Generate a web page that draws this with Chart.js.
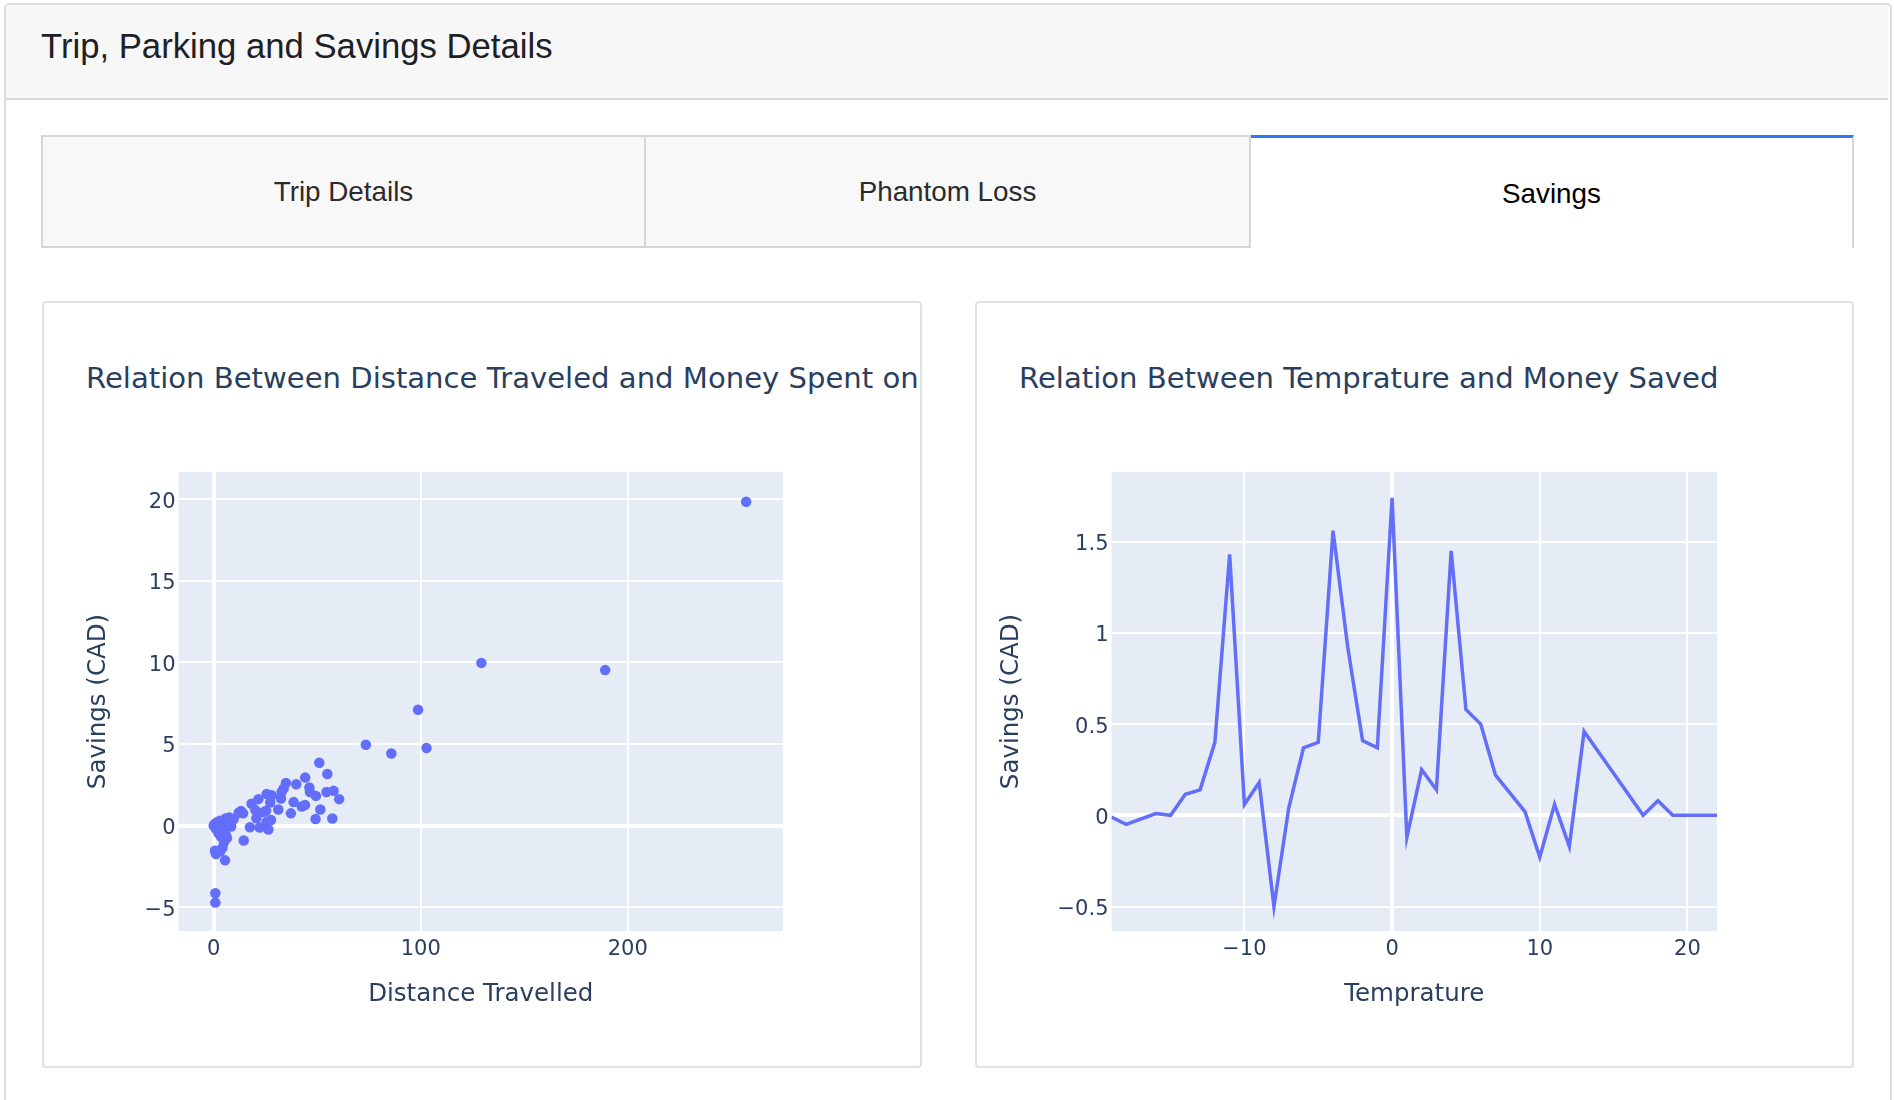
<!DOCTYPE html>
<html>
<head>
<meta charset="utf-8">
<title>Trip, Parking and Savings Details</title>
<script src="https://cdn.jsdelivr.net/npm/chart.js@4.4.1/dist/chart.umd.min.js"></script>
<style>
    html, body { margin: 0; padding: 0; background: #fff; }
    body { width: 1894px; height: 1100px; overflow: hidden; position: relative; font-family: "Liberation Sans", Arial, sans-serif; }
    .panel { position: absolute; left: 4px; top: 3px; width: 1888px; height: 1200px; border: 2px solid #dcdcdc; border-radius: 5px; box-sizing: border-box; }
    .panel-head { position: absolute; left: 6px; top: 5px; width: 1882px; height: 93px; background: #f7f7f7; border-bottom: 2px solid #d9d9d9; border-radius: 4px 4px 0 0; }
    .panel-head h1 { position: absolute; left: 35px; top: 20px; margin: 0; font-size: 34.7px; line-height: 42px; font-weight: normal; color: #1d2125; white-space: nowrap; }
    .tab { position: absolute; top: 135px; height: 113px; box-sizing: border-box; display: flex; align-items: center; justify-content: center; font-size: 27.8px; color: #2b2b2b; }
    .tab.off { background: #f8f8f8; border: 2px solid #d6d6d6; }
    .tab.on { background: #fff; border-top: 3px solid #2f78f3; border-right: 2px solid #d6d6d6; color: #000; padding-top: 2px; }
    .card { position: absolute; top: 301px; height: 767px; border: 2px solid #e1e1e1; border-radius: 4px; box-sizing: border-box; overflow: hidden; background: #fff; }
    .card .ttl { position: absolute; top: 57px; font-family: "DejaVu Sans", Verdana, sans-serif; font-size: 29.1px; line-height: 36px; color: #2a3f5f; white-space: nowrap; overflow: hidden; }
    .card canvas { position: absolute; left: 0; top: 0; }
</style>
</head>
<body>
<div class="panel"></div>
<div class="panel-head"><h1>Trip, Parking and Savings Details</h1></div>

<div class="tab off" style="left:41px; width:605px;">Trip Details</div>
<div class="tab off" style="left:644px; width:607px;">Phantom Loss</div>
<div class="tab on" style="left:1251px; width:603px;">Savings</div>

<div class="card" style="left:42px; width:880px;">
    <div class="ttl" style="left:42px; width:831px;">Relation Between Distance Traveled and Money Spent on Parking</div>
    <canvas id="distChart" width="876" height="763"></canvas>
</div>
<div class="card" style="left:975px; width:879px;">
    <div class="ttl" style="left:42px;">Relation Between Temprature and Money Saved</div>
    <canvas id="tempChart" width="875" height="763"></canvas>
</div>

<script>
// ----------- Data -----------
const distance = [
    257.2, 129.3, 189.1, 98.7, 73.5, 85.8, 102.8,
    51.0, 54.9, 44.2, 34.9, 39.9, 46.2, 46.5, 49.4, 54.5, 57.9, 60.6,
    33.8, 32.8, 32.5, 25.6, 28.0, 27.3, 21.6, 18.3, 38.6, 42.5, 44.1,
    31.2, 51.5, 37.3, 25.3, 24.1, 20.1, 13.2, 12.1, 14.2, 20.6, 27.7,
    49.2, 57.3, 26.4, 22.2, 17.5, 14.5, 25.5,
    9.7, 7.6, 5.1, 2.7, 0.3, 1.1, 2.3, 3.5, 6.4, 5.1, 8.4, 4.3,
    0.6, 1.1, 3.2, 5.5, 0.8, 0.8,
    0.0, 0.5, 1.5, 2.0, 3.0, 4.0, 6.0, 8.0, 2.0, 3.0, 4.0, 1.5, 5.0, 6.0
];
const distSavings = [
    19.85, 9.97, 9.53, 7.10, 4.95, 4.42, 4.75,
    3.85, 3.16, 2.94, 2.61, 2.53, 2.33, 2.06, 1.82, 2.06, 2.13, 1.62,
    2.27, 2.06, 1.66, 1.94, 1.86, 1.42, 1.62, 1.34, 1.44, 1.17, 1.26,
    0.99, 0.99, 0.75, 0.91, 0.81, 0.95, 0.89, 0.79, 0.75, 0.45, 0.34,
    0.40, 0.43, -0.24, -0.12, -0.10, -0.91, 0.20,
    0.40, 0.49, 0.34, 0.18, 0.04, -0.20, -0.47, -0.67, -0.77, -0.20, -0.06, -1.34,
    -1.54, -1.74, -1.58, -2.13, -4.15, -4.72,
    0.00, 0.10, 0.20, 0.05, 0.30, 0.25, 0.45, 0.45, -0.30, -0.10, -0.45, -1.60, -1.00, -0.60
];

const temperature = [-19, -18, -16, -15, -14, -13, -12, -11, -10, -9, -8, -7, -6, -5, -4, -3, -2, -1,
    0, 1, 2, 3, 4, 5, 6, 7, 9, 10, 11, 12, 13, 17, 18, 19, 22];
const tempSavings = [-0.01, -0.05, 0.01, 0.0, 0.115, 0.14, 0.40, 1.43, 0.06, 0.18, -0.50, 0.04, 0.37, 0.40, 1.56, 0.92, 0.41, 0.37,
    1.74, -0.12, 0.25, 0.14, 1.45, 0.58, 0.50, 0.22, 0.02, -0.23, 0.06, -0.17, 0.46, 0.0, 0.08, 0.0, 0.0];

const distXTicks = [0, 100, 200];
const distYTicks = [-5, 0, 5, 10, 15, 20];
const tempXTicks = [-10, 0, 10, 20];
const tempYTicks = [-0.5, 0, 0.5, 1, 1.5];

// ----------- Shared styling -----------
const TEXT = '#2a3f5f';
const MARK = '#636efa';
const FONT = 'DejaVu Sans';

const plotBg = {
    id: 'plotBg',
    beforeDraw(chart) {
        const { ctx, chartArea: a } = chart;
        ctx.save();
        ctx.fillStyle = '#e5ecf6';
        ctx.fillRect(a.left, a.top, a.right - a.left, a.bottom - a.top);
        ctx.restore();
    }
};

const minus = v => String(v).replace('-', '\u2212');

function axis(min, max, tickValues, title, isX, size) {
    return {
        type: 'linear',
        min: min,
        max: max,
        afterBuildTicks: s => { s.ticks = tickValues.map(v => ({ value: v })); },
        afterFit: s => { if (isX) s.height = size; else s.width = size; },
        border: { display: false },
        grid: {
            color: '#ffffff',
            lineWidth: c => (c.tick && c.tick.value === 0 ? 4 : 2),
            drawTicks: false
        },
        ticks: {
            padding: isX ? 6 : 3,
            labelOffset: isX ? 0 : 3,
            color: TEXT,
            font: { family: FONT, size: 21 },
            maxRotation: 0,
            autoSkip: false,
            callback: v => minus(v)
        },
        title: {
            display: true,
            text: title,
            color: TEXT,
            font: { family: FONT, size: 24.5, lineHeight: 1.2 },
            padding: isX ? { top: 0, bottom: 57 } : { top: 0, bottom: 0 }
        }
    };
}

function baseOptions(padLeft, padRight) {
    return {
        responsive: false,
        animation: false,
        devicePixelRatio: 1,
        layout: { padding: { left: padLeft, right: padRight, top: 169, bottom: 0 } },
        plugins: { legend: { display: false }, tooltip: { enabled: false } },
        events: []
    };
}

// ----------- Distance vs savings scatter -----------
const distOpts = baseOptions(40, 137);
distOpts.scales = {
    x: axis(-17, 275, distXTicks, 'Distance Travelled', true, 135),
    y: axis(-6.46, 21.67, distYTicks, 'Savings (CAD)', false, 94.5)
};
new Chart(document.getElementById('distChart'), {
    type: 'scatter',
    data: {
        datasets: [{
            data: distance.map((d, i) => ({ x: d, y: distSavings[i] })),
            backgroundColor: MARK,
            borderWidth: 0,
            pointRadius: 5.25,
            pointHoverRadius: 5.25
        }]
    },
    options: distOpts,
    plugins: [plotBg]
});

// ----------- Temperature vs savings line -----------
const tempOpts = baseOptions(20, 135);
tempOpts.scales = {
    x: axis(-19, 22, tempXTicks, 'Temprature', true, 135),
    y: axis(-0.634, 1.882, tempYTicks, 'Savings (CAD)', false, 114.5)
};
new Chart(document.getElementById('tempChart'), {
    type: 'line',
    data: {
        datasets: [{
            data: temperature.map((t, i) => ({ x: t, y: tempSavings[i] })),
            borderColor: MARK,
            borderWidth: 3.5,
            pointRadius: 0,
            tension: 0,
            fill: false
        }]
    },
    options: tempOpts,
    plugins: [plotBg]
});
</script>
</body>
</html>
